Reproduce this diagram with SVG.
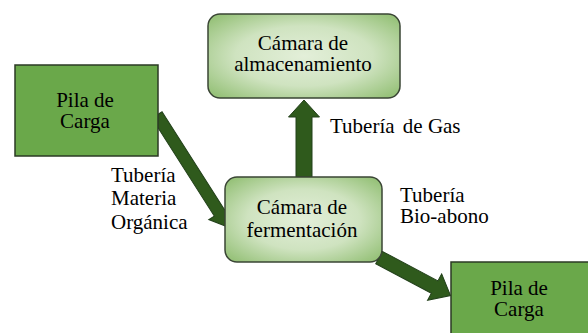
<svg xmlns="http://www.w3.org/2000/svg" width="588" height="333" viewBox="0 0 588 333">
<defs>
<radialGradient id="g" cx="50%" cy="50%" r="65%">
<stop offset="0" stop-color="#e3efd9"/>
<stop offset="0.55" stop-color="#cfe3c0"/>
<stop offset="1" stop-color="#97c27a"/>
</radialGradient>
</defs>
<rect width="588" height="333" fill="#ffffff"/>
<g id="connectors" fill="#2f5a1c" stroke="#22401a" stroke-width="1">
<polygon transform="translate(157,115) rotate(57.5)" points="0,-6 116,-6 116,-12.5 133,0 116,12.5 116,6 0,6"/>
<polygon points="296,177 296,117 288.5,117 304,100 319.5,117 312,117 312,177"/>
<polygon transform="translate(379,257.5) rotate(28)" points="0,-7 63,-7 63,-15 81,0 63,15 63,7 0,7"/>
</g>
<g id="pila1">
<rect x="15" y="65" width="143" height="91" fill="#6aa84a" stroke="#2b3a24" stroke-width="1.5"/>
<text style="font-family:'Liberation Serif'" font-size="21" text-anchor="middle" x="85" y="107">Pila de</text>
<text style="font-family:'Liberation Serif'" font-size="21" text-anchor="middle" x="85" y="128">Carga</text>
</g>
<g id="almacenamiento">
<rect x="208" y="14" width="192" height="84" rx="12" fill="url(#g)" stroke="#3a4535" stroke-width="1.5"/>
<text style="font-family:'Liberation Serif'" font-size="21" text-anchor="middle" x="303" y="50">Cámara de</text>
<text style="font-family:'Liberation Serif'" font-size="21" text-anchor="middle" x="303" y="71">almacenamiento</text>
</g>
<g id="fermentacion">
<rect x="225" y="177" width="157" height="85" rx="12" fill="url(#g)" stroke="#3a4535" stroke-width="1.5"/>
<text style="font-family:'Liberation Serif'" font-size="21" text-anchor="middle" x="302" y="214">Cámara de</text>
<text style="font-family:'Liberation Serif'" font-size="21" text-anchor="middle" x="302" y="237">fermentación</text>
</g>
<g id="pila2">
<rect x="451" y="262" width="140" height="80" fill="#6aa84a" stroke="#2b3a24" stroke-width="1.5"/>
<text style="font-family:'Liberation Serif'" font-size="21" text-anchor="middle" x="519" y="295">Pila de</text>
<text style="font-family:'Liberation Serif'" font-size="21" text-anchor="middle" x="519" y="316">Carga</text>
</g>
<g id="labels">
<text style="font-family:'Liberation Serif'" font-size="21" x="330" y="133">Tubería <tspan dx="3">de Gas</tspan></text>
<text style="font-family:'Liberation Serif'" font-size="21" x="400" y="202">Tubería</text>
<text style="font-family:'Liberation Serif'" font-size="21" x="400" y="223">Bio-abono</text>
<text style="font-family:'Liberation Serif'" font-size="21" x="111" y="182">Tubería</text>
<text style="font-family:'Liberation Serif'" font-size="21" x="111" y="205">Materia</text>
<text style="font-family:'Liberation Serif'" font-size="21" x="111" y="229">Orgánica</text>
</g>
</svg>
